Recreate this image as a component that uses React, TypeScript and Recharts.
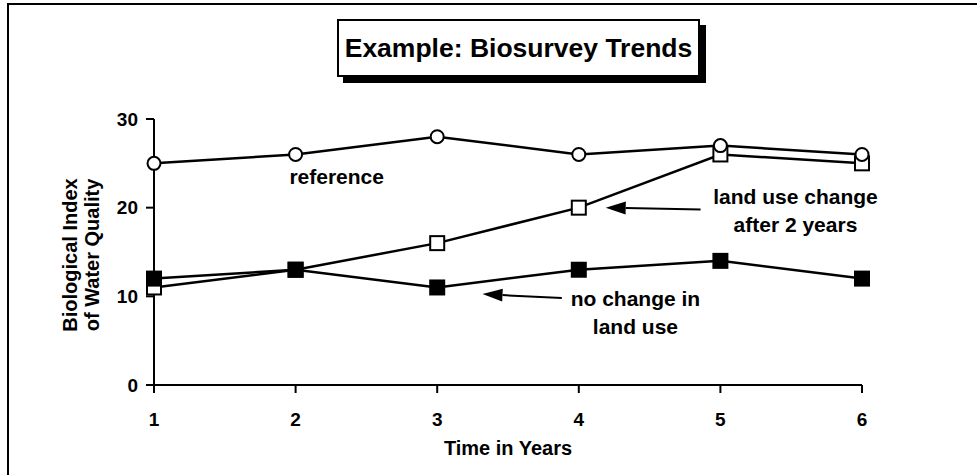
import {
  LineChart,
  Line,
  XAxis,
  YAxis,
  ReferenceLine,
  ReferenceDot,
} from "recharts";

const years = [1, 2, 3, 4, 5, 6];
const referenceSite = [25, 26, 28, 26, 27, 26];
const landUseChange = [11, 13, 16, 20, 26, 25];
const noChange = [12, 13, 11, 13, 14, 12];
const yTicks = [0, 10, 20, 30];

const FONT = "'Liberation Sans', Arial, Helvetica, sans-serif";

const data = years.map((year, i) => ({
  year,
  reference: referenceSite[i],
  landUse: landUseChange[i],
  noChange: noChange[i],
}));

// annotation anchors in data units (first line baseline)
const notes = [
  { x: 2.29, y: 22.7, lines: ["reference"] },
  { x: 5.53, y: 20.4, lines: ["land use change", "after 2 years"] },
  { x: 4.4, y: 8.9, lines: ["no change in", "land use"] },
];
const arrows = [
  { from: { x: 4.86, y: 19.8 }, to: { x: 4.19, y: 20.0 } },
  { from: { x: 3.88, y: 9.8 }, to: { x: 3.32, y: 10.25 } },
];

const circleDot = (p: any) => (
  <circle
    key={`c-${p.index}`}
    cx={p.cx}
    cy={p.cy}
    r={6.5}
    fill="#fff"
    stroke="#000"
    strokeWidth={2}
  />
);

const squareDot = (filled: boolean) => (p: any) => (
  <rect
    key={`s-${filled ? "f" : "o"}-${p.index}`}
    x={p.cx - 7}
    y={p.cy - 7}
    width={14}
    height={14}
    fill={filled ? "#000" : "#fff"}
    stroke="#000"
    strokeWidth={2}
  />
);

const arrowShape = (p: any) => {
  const { x1, y1, x2, y2 } = p;
  const ang = Math.atan2(y2 - y1, x2 - x1);
  const len = 20;
  const hw = 6.5;
  const bx = x2 - len * Math.cos(ang);
  const by = y2 - len * Math.sin(ang);
  const nx = -Math.sin(ang);
  const ny = Math.cos(ang);
  return (
    <g>
      <line x1={x1} y1={y1} x2={bx} y2={by} stroke="#000" strokeWidth={2} />
      <polygon
        points={`${x2},${y2} ${bx + nx * hw},${by + ny * hw} ${bx - nx * hw},${by - ny * hw}`}
        fill="#000"
      />
    </g>
  );
};

const noteShape = (lines: string[]) => (p: any) => (
  <text
    x={p.cx}
    y={p.cy}
    textAnchor="middle"
    fontFamily={FONT}
    fontWeight="bold"
    fontSize={21}
    fill="#000"
  >
    {lines.map((l, i) => (
      <tspan key={i} x={p.cx} dy={i === 0 ? 0 : 28}>
        {l}
      </tspan>
    ))}
  </text>
);

const yLabel = () => (
  <text
    transform="translate(81 255) rotate(-90)"
    textAnchor="middle"
    fontFamily={FONT}
    fontWeight="bold"
    fontSize={20}
    fill="#000"
  >
    <tspan x={0} dy={-4}>
      Biological Index
    </tspan>
    <tspan x={0} dy={22}>
      of Water Quality
    </tspan>
  </text>
);

const tickStyle = { fill: "#000", fontFamily: FONT, fontWeight: "bold", fontSize: 19 };

export default function App() {
  return (
    <div
      style={{
        position: "absolute",
        left: 0,
        top: 0,
        width: 977,
        height: 475,
        background: "#fff",
        overflow: "hidden",
      }}
    >
      <div
        style={{
          position: "absolute",
          left: 7,
          top: 3,
          width: 980,
          height: 480,
          borderTop: "2px solid #000",
          borderLeft: "2px solid #000",
        }}
      />
      <div
        style={{
          position: "absolute",
          left: 337,
          top: 19,
          width: 359,
          height: 54,
          border: "2px solid #000",
          boxShadow: "6px 6px 0 #000",
          background: "#fff",
          display: "flex",
          alignItems: "center",
          justifyContent: "center",
          fontFamily: FONT,
          fontWeight: "bold",
          fontSize: 26.5,
          color: "#000",
          zIndex: 2,
        }}
      >
        Example: Biosurvey Trends
      </div>
      <div style={{ position: "absolute", left: 0, top: 0 }}>
        <LineChart
          width={977}
          height={475}
          data={data}
          margin={{ top: 119, right: 115, bottom: 30, left: 94 }}
        >
          <XAxis
            dataKey="year"
            type="number"
            domain={[1, 6]}
            ticks={years}
            stroke="#000"
            strokeWidth={2}
            tickSize={8}
            tickMargin={20}
            height={60}
            fontSize={19}
            tick={tickStyle}
            label={{
              value: "Time in Years",
              position: "bottom",
              offset: -4,
              fill: "#000",
              fontFamily: FONT,
              fontWeight: "bold",
              fontSize: 20,
            }}
          />
          <YAxis
            type="number"
            domain={[0, 30]}
            ticks={yTicks}
            stroke="#000"
            strokeWidth={2}
            tickSize={8}
            tickMargin={8}
            width={60}
            fontSize={19}
            tick={tickStyle}
            label={{ content: yLabel }}
          />
          {arrows.map((a, i) => (
            <ReferenceLine
              key={`a-${i}`}
              segment={[a.from, a.to]}
              shape={arrowShape}
              ifOverflow="visible"
            />
          ))}
          {notes.map((n, i) => (
            <ReferenceDot
              key={`n-${i}`}
              x={n.x}
              y={n.y}
              r={0}
              shape={noteShape(n.lines)}
              ifOverflow="visible"
            />
          ))}
          <Line
            dataKey="landUse"
            stroke="#000"
            strokeWidth={2.5}
            dot={squareDot(false)}
            isAnimationActive={false}
          />
          <Line
            dataKey="noChange"
            stroke="#000"
            strokeWidth={2.5}
            dot={squareDot(true)}
            isAnimationActive={false}
          />
          <Line
            dataKey="reference"
            stroke="#000"
            strokeWidth={2.5}
            dot={circleDot}
            isAnimationActive={false}
          />
        </LineChart>
      </div>
    </div>
  );
}
